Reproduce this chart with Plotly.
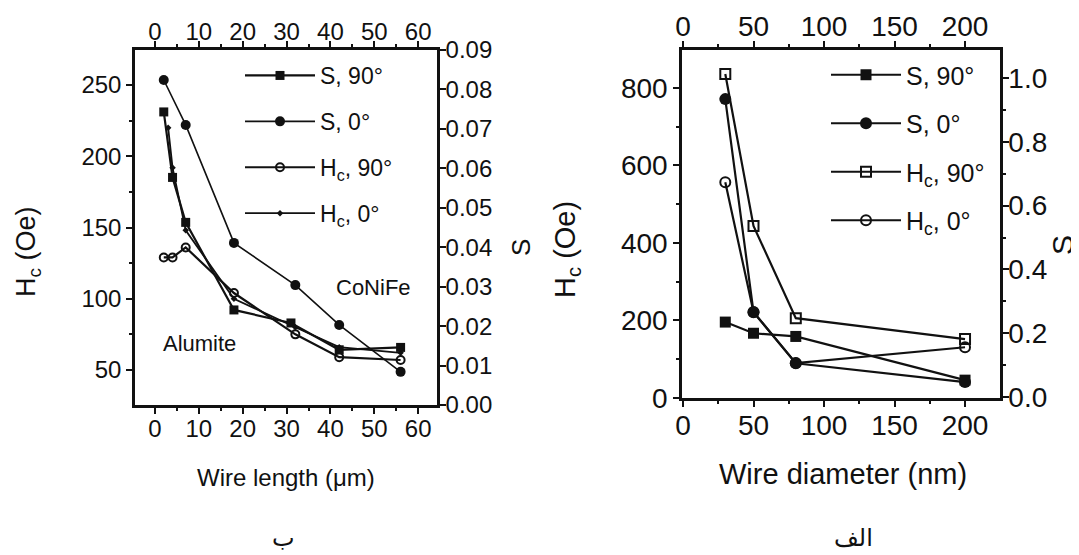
import plotly.graph_objects as go

# ---------------- data: left panel (wire length, CoNiFe in alumite) -------------
len_s90 = [2, 4, 7, 18, 31, 42, 56]
s90_len = [0.0743, 0.0577, 0.0463, 0.0241, 0.0208, 0.0140, 0.0146]
len_s0 = [2, 7, 18, 32, 42, 56]
s0_len = [0.0824, 0.0710, 0.0411, 0.0304, 0.0203, 0.0084]
len_hc90 = [2, 4, 7, 18, 32, 42, 56]
hc90_len = [129, 129, 136, 104, 75, 59, 57]
len_hc0 = [3, 4, 7, 18, 32, 42, 56]
hc0_len = [220, 192, 148, 100, 80, 66, 62]

# ---------------- data: right panel (wire diameter) -------------
diam = [30, 50, 80, 200]
s90_diam = [0.235, 0.200, 0.190, 0.053]
s0_diam = [0.934, 0.266, 0.106, 0.047]
hc90_diam = [836, 444, 206, 152]
hc0_diam = [557, 222, 90, 131]

left_xticks = [0, 10, 20, 30, 40, 50, 60]
left_hc_ticks = [50, 100, 150, 200, 250]
left_s_ticks = [0.00, 0.01, 0.02, 0.03, 0.04, 0.05, 0.06, 0.07, 0.08, 0.09]
right_xticks = [0, 50, 100, 150, 200]
right_hc_ticks = [0, 200, 400, 600, 800]
right_s_ticks = [0.0, 0.2, 0.4, 0.6, 0.8, 1.0]

# page body has an 8 px margin, so the figure is 8 px inset
OFF = 8
W, H = 1079 - OFF, 555 - OFF
FONT = "Liberation Sans"
BLACK = "#111111"


def px(x):
    return (x - OFF) / W


def py(y):
    return 1 - (y - OFF) / H


fig = go.Figure()

# left panel: Hc on (x, y) = bottom/left, S on (x2, y2) = top/right (same x scale)
fig.add_trace(go.Scatter(x=len_s90, y=s90_len, xaxis="x2", yaxis="y2", name="S, 90°",
                         mode="lines+markers", legend="legend", legendgroup="a",
                         line=dict(color=BLACK, width=2.2),
                         marker=dict(symbol="square", size=9, color=BLACK)))
fig.add_trace(go.Scatter(x=len_s0, y=s0_len, xaxis="x2", yaxis="y2", name="S, 0°",
                         mode="lines+markers", legend="legend", legendgroup="b",
                         line=dict(color=BLACK, width=1.6),
                         marker=dict(symbol="circle", size=10, color=BLACK)))
fig.add_trace(go.Scatter(x=len_hc90, y=hc90_len, xaxis="x", yaxis="y", name="H<sub>c</sub>, 90°",
                         mode="lines+markers", legend="legend", legendgroup="c",
                         line=dict(color=BLACK, width=2.2),
                         marker=dict(symbol="circle-open", size=8, color=BLACK, line=dict(width=2))))
fig.add_trace(go.Scatter(x=len_hc0, y=hc0_len, xaxis="x", yaxis="y", name="H<sub>c</sub>, 0°",
                         mode="lines+markers", legend="legend", legendgroup="d",
                         line=dict(color=BLACK, width=1.8),
                         marker=dict(symbol="diamond", size=5, color=BLACK)))

# right panel: Hc on (x3, y3), S on (x4, y4)
fig.add_trace(go.Scatter(x=diam, y=s90_diam, xaxis="x4", yaxis="y4", name="S, 90°",
                         mode="lines+markers", legend="legend2", legendgroup="e",
                         line=dict(color=BLACK, width=2.2),
                         marker=dict(symbol="square", size=11, color=BLACK)))
fig.add_trace(go.Scatter(x=diam, y=s0_diam, xaxis="x4", yaxis="y4", name="S, 0°",
                         mode="lines+markers", legend="legend2", legendgroup="f",
                         line=dict(color=BLACK, width=2.2),
                         marker=dict(symbol="circle", size=12, color=BLACK)))
fig.add_trace(go.Scatter(x=diam, y=hc90_diam, xaxis="x3", yaxis="y3", name="H<sub>c</sub>, 90°",
                         mode="lines+markers", legend="legend2", legendgroup="g",
                         line=dict(color=BLACK, width=2.2),
                         marker=dict(symbol="square-open", size=10, color=BLACK, line=dict(width=2))))
fig.add_trace(go.Scatter(x=diam, y=hc0_diam, xaxis="x3", yaxis="y3", name="H<sub>c</sub>, 0°",
                         mode="lines+markers", legend="legend2", legendgroup="h",
                         line=dict(color=BLACK, width=2.2),
                         marker=dict(symbol="circle-open", size=10, color=BLACK, line=dict(width=2))))

axis_common = dict(showgrid=False, zeroline=False, showline=True, linecolor=BLACK,
                   linewidth=2.5, ticks="outside", ticklen=6, tickwidth=2,
                   tickcolor=BLACK, automargin=False)


def minor(d):
    return dict(dtick=d, tick0=0, ticklen=3, tickwidth=1.5, ticks="outside", tickcolor=BLACK)


L_dom_x = [px(135), px(437)]
L_dom_y = [py(405), py(50)]
R_dom_x = [px(682), px(1000)]
R_dom_y = [py(398), py(50)]

lfont = dict(family=FONT, size=24, color=BLACK)
rfont = dict(family=FONT, size=28, color=BLACK)
L_XR = [-4.56, 64.3]
R_XR = [-0.7, 224.8]

fig.update_layout(
    width=W, height=H, margin=dict(l=0, r=0, t=0, b=0),
    paper_bgcolor="white", plot_bgcolor="white",
    font=dict(family=FONT, color=BLACK),
    xaxis=dict(domain=L_dom_x, anchor="y", side="bottom", range=L_XR, tickvals=left_xticks,
               tickfont=lfont, minor=minor(5), ticklabelstandoff=-6, **axis_common),
    xaxis2=dict(domain=L_dom_x, overlaying="x", anchor="y2", side="top", range=L_XR,
                tickvals=left_xticks, tickfont=lfont, minor=minor(5), ticklabelstandoff=-8,
                **axis_common),
    yaxis=dict(domain=L_dom_y, anchor="x", side="left", range=[25.4, 274.6], tickvals=left_hc_ticks,
               tickfont=lfont, minor=minor(25), **axis_common),
    yaxis2=dict(domain=L_dom_y, overlaying="y", anchor="x2", side="right", range=[0, 0.09],
                tickvals=left_s_ticks, tickformat=".2f", tickfont=lfont, ticklabelstandoff=-5,
                **axis_common),
    xaxis3=dict(domain=R_dom_x, anchor="y3", side="bottom", range=R_XR, tickvals=right_xticks,
                tickfont=rfont, minor=minor(25), ticklabelstandoff=-5, **axis_common),
    xaxis4=dict(domain=R_dom_x, overlaying="x3", anchor="y4", side="top", range=R_XR,
                tickvals=right_xticks, tickfont=rfont, minor=minor(25), ticklabelstandoff=-6,
                **axis_common),
    yaxis3=dict(domain=R_dom_y, anchor="x3", side="left", range=[0, 898], tickvals=right_hc_ticks,
                tickfont=rfont, minor=minor(100), **axis_common),
    yaxis4=dict(domain=R_dom_y, overlaying="y3", anchor="x4", side="right", range=[-0.003, 1.088],
                tickvals=right_s_ticks, tickformat=".1f", tickfont=rfont, minor=minor(0.1),
                ticklabelstandoff=-6, **axis_common),
    legend=dict(x=px(240), y=py(54), xanchor="left", yanchor="top", bgcolor="rgba(0,0,0,0)",
                font=dict(family=FONT, size=23, color=BLACK), tracegroupgap=13, itemwidth=70),
    legend2=dict(x=px(826), y=py(52), xanchor="left", yanchor="top", bgcolor="rgba(0,0,0,0)",
                 font=dict(family=FONT, size=25, color=BLACK), tracegroupgap=13, itemwidth=70),
    showlegend=True,
)

ann = [
    dict(text="Wire length (μm)", x=286, y=477, size=24, angle=0, fam=FONT),
    dict(text="Wire diameter (nm)", x=843, y=474, size=29, angle=0, fam=FONT),
    dict(text="H<sub>c</sub> (Oe)", x=28, y=252, size=27, angle=-90, fam=FONT),
    dict(text="H<sub>c</sub> (Oe)", x=567, y=250, size=29, angle=-90, fam=FONT),
    dict(text="S", x=521, y=248, size=26, angle=-90, fam=FONT),
    dict(text="S", x=1062, y=245, size=30, angle=-90, fam=FONT),
    dict(text="Alumite", x=199, y=343, size=22, angle=0, fam=FONT),
    dict(text="CoNiFe", x=373, y=287, size=22, angle=0, fam=FONT),
    dict(text="ب", x=283, y=538, size=24, angle=0, fam="DejaVu Sans"),
    dict(text="الف", x=853, y=538, size=24, angle=0, fam="DejaVu Sans"),
]
for a in ann:
    fig.add_annotation(text=a["text"], x=px(a["x"]), y=py(a["y"]), xref="paper", yref="paper",
                       showarrow=False, textangle=a["angle"], xanchor="center", yanchor="middle",
                       font=dict(family=a["fam"], size=a["size"], color=BLACK))

fig.write_html("out.html")
